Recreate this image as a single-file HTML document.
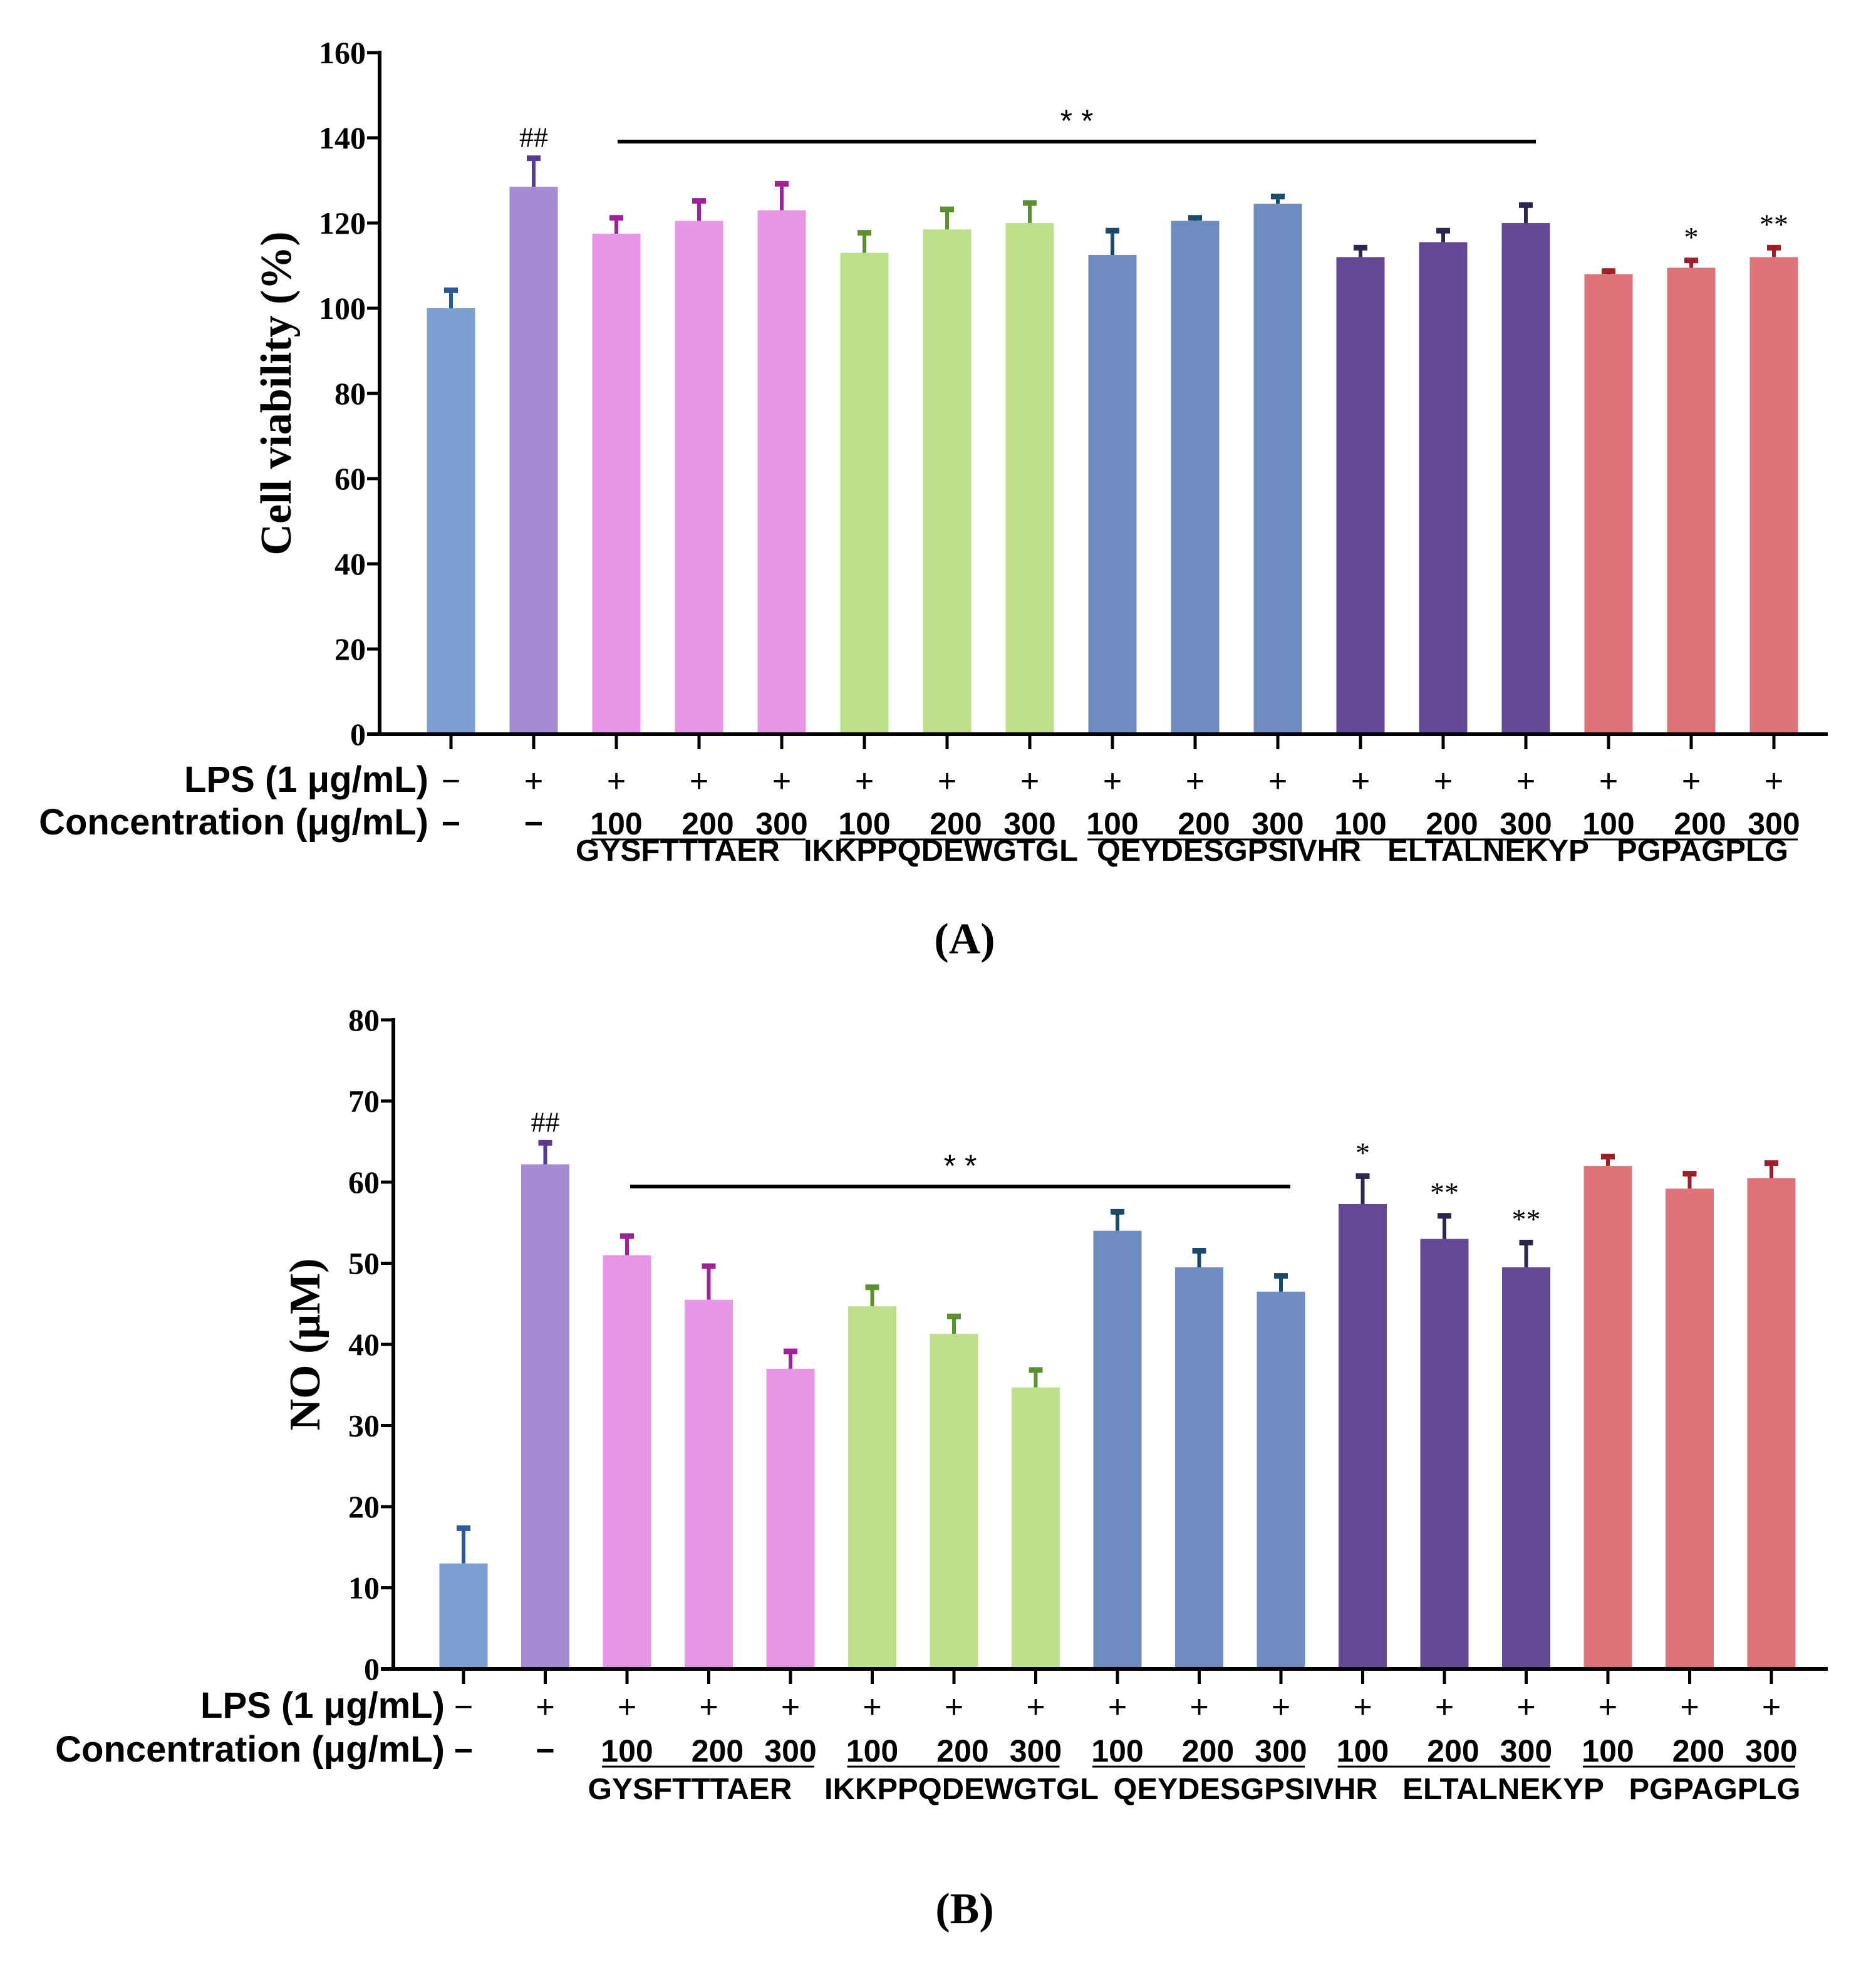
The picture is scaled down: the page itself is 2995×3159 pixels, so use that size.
<!DOCTYPE html>
<html><head><meta charset="utf-8"><style>
html,body{margin:0;padding:0;background:#fff;}
svg{display:block;}
</style></head><body>
<svg id="fig" xmlns="http://www.w3.org/2000/svg" width="2995" height="3159" viewBox="0 0 2995 3159"></svg>
<script>
const categories = ["Control","LPS","GYSFTTTAER-100","GYSFTTTAER-200","GYSFTTTAER-300","IKKPPQDEWGTGL-100","IKKPPQDEWGTGL-200","IKKPPQDEWGTGL-300","QEYDESGPSIVHR-100","QEYDESGPSIVHR-200","QEYDESGPSIVHR-300","ELTALNEKYP-100","ELTALNEKYP-200","ELTALNEKYP-300","PGPAGPLG-100","PGPAGPLG-200","PGPAGPLG-300"];
const viabilityValues = [100,128.5,117.5,120.5,123,113,118.5,120,112.5,120.5,124.5,112,115.5,120,108,109.5,112];
const viabilityErrors = [4.5,7,4,5,6.5,5,5,5,6,1,2,2.5,3,4.5,1,2,2.5];
const noValues = [13,62.2,51,45.5,37,44.7,41.3,34.7,54,49.5,46.5,57.3,53,49.5,62,59.2,60.5];
const noErrors = [4.5,2.8,2.5,4.3,2.3,2.5,2.3,2.3,2.5,2.2,2.1,3.6,3,3.2,1.3,2,2];
const viabilityTicks = [0,20,40,60,80,100,120,140,160];
const noTicks = [0,10,20,30,40,50,60,70,80];
const lpsLabels = ["−","+","+","+","+","+","+","+","+","+","+","+","+","+","+","+","+"];
const concLabels = ["−","−","100","200","300","100","200","300","100","200","300","100","200","300","100","200","300"];
const peptides = ["GYSFTTTAER","IKKPPQDEWGTGL","QEYDESGPSIVHR","ELTALNEKYP","PGPAGPLG"];
const viabilitySig = ["","##","","","","","","","","","","","","","","*","**"];
const noSig = ["","##","","","","","","","","","","*","**","**","","",""];
const fills = ["#7ca0d4","#a48bd3","#e895e8","#bddf89","#6e8cc0","#634894","#de7479"];
const errCols = ["#2a5a9a","#5b3a95","#a0229a","#5a9030","#1a4a6a","#2e2550","#a01e2a"];
const colorIdx = [0,1,2,2,2,3,3,3,4,4,4,5,5,5,6,6,6];
const nameWidths = [326,438,422,322,274];

const NS="http://www.w3.org/2000/svg";
const svg=document.getElementById('fig');
function mk(tag,attrs,parent,text){const e=document.createElementNS(NS,tag);for(const k in attrs)e.setAttribute(k,attrs[k]);if(text!==undefined)e.textContent=text;(parent||svg).appendChild(e);return e;}

function panel(cfg){
  const g=mk('g',{});
  
  
  const y=v=>cfg.y0-(v-cfg.min)/(cfg.max-cfg.min)*(cfg.y0-cfg.yTop);
  const x=i=>cfg.x0+i*cfg.step;
  const bw=77;
  cfg.vals.forEach((v,i)=>{
    const c=colorIdx[i];
    const eb=mk('line',{x1:x(i),x2:x(i),y1:y(v),y2:y(v+cfg.errs[i]),stroke:errCols[c],'stroke-width':6},g);
    
    
    const cap=mk('line',{x1:x(i)-11,x2:x(i)+11,y1:y(v+cfg.errs[i])+2,y2:y(v+cfg.errs[i])+2,stroke:errCols[c],'stroke-width':9},g);
    
    
    const r=mk('rect',{x:x(i)-bw/2,y:y(v),width:bw,height:cfg.y0-y(v),fill:fills[c]},g);
    
    
    if(cfg.sig[i]){
      const s=mk('text',{x:x(i),y:y(v+cfg.errs[i])-(cfg.sig[i]==='##'?16:20),'text-anchor':'middle','font-family':'Liberation Serif, serif','font-size':46},g,cfg.sig[i]);
      
      
    }
  });
  const ya=mk('line',{x1:cfg.axX,x2:cfg.axX,y1:cfg.yTop-3,y2:cfg.y0+3,stroke:'#000','stroke-width':6},g);
  
  
  const xa=mk('line',{x1:cfg.axX-20,x2:cfg.axEnd,y1:cfg.y0,y2:cfg.y0,stroke:'#000','stroke-width':6},g);
  
  
  cfg.ticks.forEach(t=>{
    mk('line',{x1:cfg.axX-20,x2:cfg.axX,y1:y(t),y2:y(t),stroke:'#000','stroke-width':5},g);
    const tl=mk('text',{x:cfg.axX-22,y:y(t)+17,'text-anchor':'end','font-family':'Liberation Serif, serif','font-weight':'bold','font-size':50},g,t);
    
    
  });
  cfg.vals.forEach((v,i)=>{mk('line',{x1:x(i),x2:x(i),y1:cfg.y0,y2:cfg.y0+24,stroke:'#000','stroke-width':5},g);});
  const yt=mk('text',{transform:`translate(${cfg.titleX},${(cfg.y0+cfg.yTop)/2}) rotate(-90)`,'text-anchor':'middle','font-family':'Liberation Serif, serif','font-weight':'bold','font-size':70},g,cfg.title);
  
  
  const sb=mk('line',{x1:cfg.sbX1,x2:cfg.sbX2,y1:cfg.sbY,y2:cfg.sbY,stroke:'#000','stroke-width':6},g);
  
  
  const st=mk('text',{x:(cfg.sbX1+cfg.sbX2)/2,y:cfg.sbY-16,'text-anchor':'middle','font-family':'Liberation Sans, sans-serif','font-size':50},g,'* *');
  
  
  const f='Liberation Sans, Arial, sans-serif';
  const l1=mk('text',{x:cfg.rowLabX,y:cfg.lpsY,'text-anchor':'end','font-family':f,'font-weight':'bold','font-size':58},g,'LPS (1 μg/mL)');
  
  
  const l2=mk('text',{x:cfg.rowLabX,y:cfg.concY,'text-anchor':'end','font-family':f,'font-weight':'bold','font-size':58},g,'Concentration (μg/mL)');
  
  
  cfg.vals.forEach((v,i)=>{
    const a=mk('text',{x:x(i),y:cfg.lpsY,'text-anchor':'middle','font-family':f,'font-size':52},g,lpsLabels[i]);
    
    
    const b=mk('text',{x:x(i)+(i<2?0:(i%3===0?14:0)),y:cfg.concY,'text-anchor':'middle','font-family':f,'font-weight':'bold','font-size':i<2?52:50},g,concLabels[i]);
    
    
  });
  peptides.forEach((p,k)=>{
    const a=2+k*3;
    mk('line',{x1:x(a)-40,x2:x(a+2)+38,y1:cfg.concY+8,y2:cfg.concY+8,stroke:'#000','stroke-width':3},g);
    const t=mk('text',{x:x(a+1)+cfg.nameOff[k],y:cfg.nameY,'text-anchor':'middle','font-family':f,'font-weight':'bold','font-size':48,textLength:nameWidths[k],lengthAdjust:'spacingAndGlyphs'},g,p);
    
    
  });
  const pl=mk('text',{x:1540,y:cfg.panelY,'text-anchor':'middle','font-family':'Liberation Serif, serif','font-weight':'bold','font-size':70},g,cfg.panel);
  
  
}

panel({name:'panel-a-cell-viability',vals:viabilityValues,errs:viabilityErrors,sig:viabilitySig,ticks:viabilityTicks,min:0,max:160,
  y0:1172,yTop:84,x0:720,step:132,axX:606,axEnd:2918,title:'Cell viability (%)',titleX:464,
  sbX1:986,sbX2:2452,sbY:226,rowLabX:684,lpsY:1264,concY:1332,nameY:1374,panelY:1522,panel:'(A)',
  nameOff:[-34,-10,54,72,18]});
panel({name:'panel-b-no-production',vals:noValues,errs:noErrors,sig:noSig,ticks:noTicks,min:0,max:80,
  y0:2664,yTop:1628,x0:740,step:130.5,axX:628,axEnd:2918,title:'NO (μM)',titleX:510,
  sbX1:1006,sbX2:2060,sbY:1894,rowLabX:710,lpsY:2742,concY:2812,nameY:2872,panelY:3070,panel:'(B)',
  nameOff:[-30,12,74,94,40]});
</script>
</body></html>
